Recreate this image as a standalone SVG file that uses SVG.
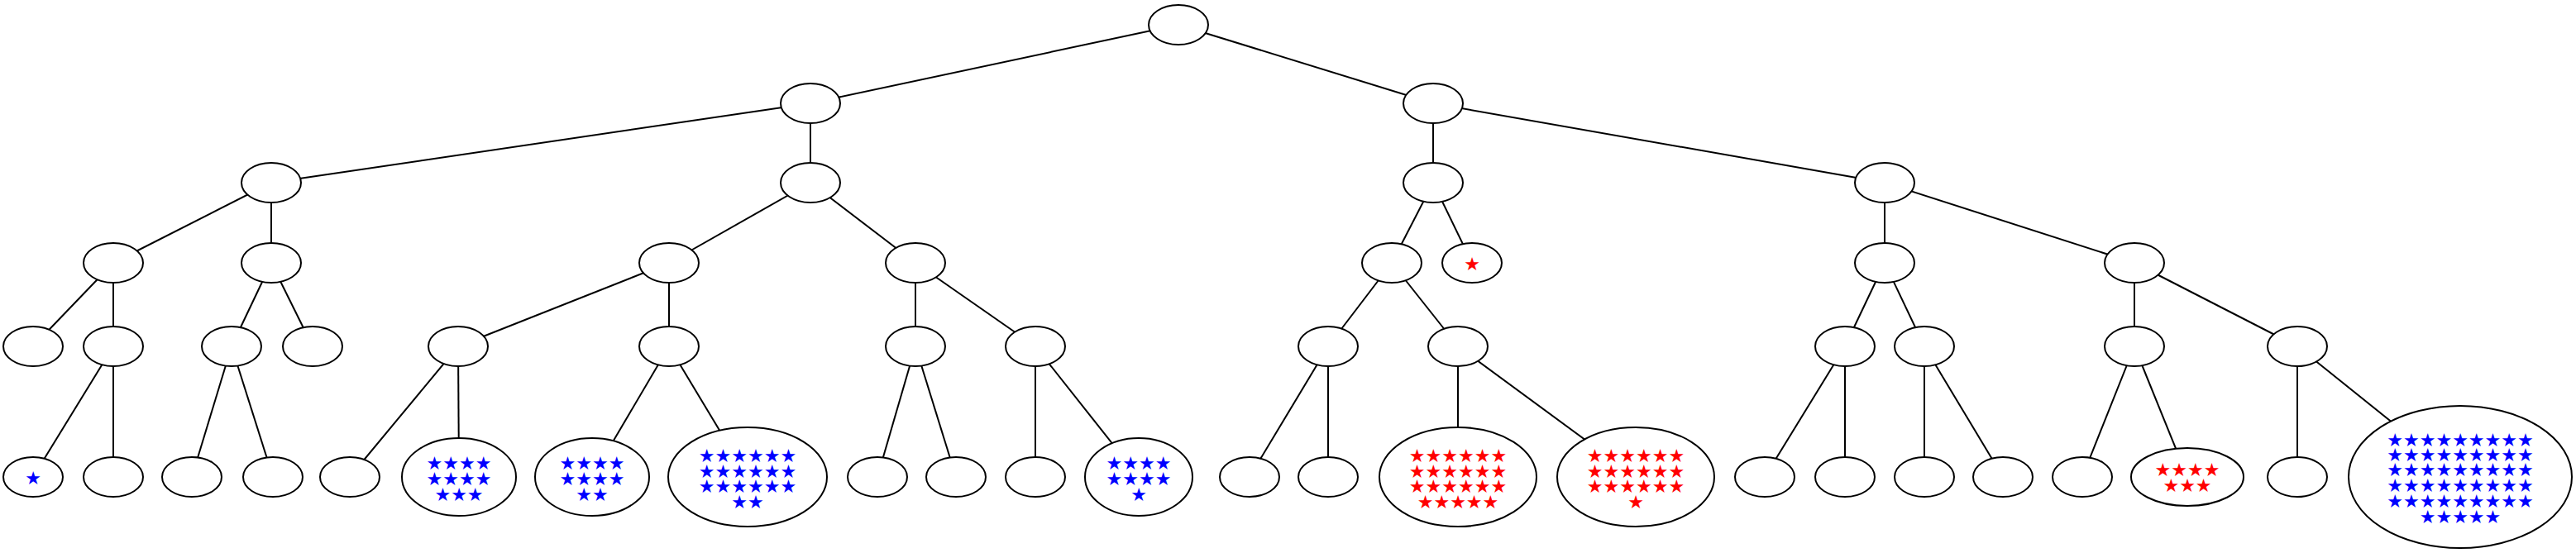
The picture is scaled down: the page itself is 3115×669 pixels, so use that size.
<svg xmlns="http://www.w3.org/2000/svg" width="3115" height="669" viewBox="0 0 3115 669">
<style>
ellipse{fill:#fff;stroke:#000;stroke-width:2}
line{stroke:#000;stroke-width:2}
.b{fill:#00f}.r{fill:#f00}
text{font-family:"DejaVu Sans",sans-serif;font-size:22px;text-anchor:middle;dominant-baseline:central}
</style>
<rect width="3115" height="669" fill="#fff"/>
<g id="edges">
<line x1="1425" y1="30" x2="980" y2="125"/><line x1="1425" y1="30" x2="1733" y2="125"/>
<line x1="980" y1="125" x2="328" y2="221"/><line x1="980" y1="125" x2="980" y2="221"/>
<line x1="1733" y1="125" x2="1733" y2="221"/><line x1="1733" y1="125" x2="2279" y2="221"/>
<line x1="328" y1="221" x2="137" y2="318"/><line x1="328" y1="221" x2="328" y2="318"/>
<line x1="980" y1="221" x2="809" y2="318"/><line x1="980" y1="221" x2="1107" y2="318"/>
<line x1="1733" y1="221" x2="1683" y2="318"/><line x1="1733" y1="221" x2="1780" y2="318"/>
<line x1="2279" y1="221" x2="2279" y2="318"/><line x1="2279" y1="221" x2="2581" y2="318"/>
<line x1="137" y1="318" x2="40" y2="419"/><line x1="137" y1="318" x2="137" y2="419"/>
<line x1="328" y1="318" x2="280" y2="419"/><line x1="328" y1="318" x2="378" y2="419"/>
<line x1="809" y1="318" x2="554" y2="419"/><line x1="809" y1="318" x2="809" y2="419"/>
<line x1="1107" y1="318" x2="1107" y2="419"/><line x1="1107" y1="318" x2="1252" y2="419"/>
<line x1="1683" y1="318" x2="1606" y2="419"/><line x1="1683" y1="318" x2="1763" y2="419"/>
<line x1="2279" y1="318" x2="2231" y2="419"/><line x1="2279" y1="318" x2="2327" y2="419"/>
<line x1="2581" y1="318" x2="2581" y2="419"/><line x1="2581" y1="318" x2="2778" y2="419"/>
<line x1="137" y1="419" x2="40" y2="577"/><line x1="137" y1="419" x2="137" y2="577"/>
<line x1="280" y1="419" x2="232" y2="577"/><line x1="280" y1="419" x2="330" y2="577"/>
<line x1="554" y1="419" x2="423" y2="577"/><line x1="554" y1="419" x2="555" y2="577"/>
<line x1="809" y1="419" x2="716" y2="577"/><line x1="809" y1="419" x2="904" y2="577"/>
<line x1="1107" y1="419" x2="1061" y2="577"/><line x1="1107" y1="419" x2="1156" y2="577"/>
<line x1="1252" y1="419" x2="1252" y2="577"/><line x1="1252" y1="419" x2="1377" y2="577"/>
<line x1="1606" y1="419" x2="1511" y2="577"/><line x1="1606" y1="419" x2="1606" y2="577"/>
<line x1="1763" y1="419" x2="1763" y2="577"/><line x1="1763" y1="419" x2="1978" y2="577"/>
<line x1="2231" y1="419" x2="2134" y2="577"/><line x1="2231" y1="419" x2="2231" y2="577"/>
<line x1="2327" y1="419" x2="2327" y2="577"/><line x1="2327" y1="419" x2="2422" y2="577"/>
<line x1="2581" y1="419" x2="2518" y2="577"/><line x1="2581" y1="419" x2="2645" y2="577"/>
<line x1="2778" y1="419" x2="2778" y2="577"/><line x1="2778" y1="419" x2="2975" y2="577"/>
</g>
<g id="n0"><ellipse cx="1425" cy="30" rx="36" ry="24"/></g>
<g id="n1"><ellipse cx="980" cy="125" rx="36" ry="24"/></g>
<g id="n2"><ellipse cx="1733" cy="125" rx="36" ry="24"/></g>
<g id="n3"><ellipse cx="328" cy="221" rx="36" ry="24"/></g>
<g id="n4"><ellipse cx="980" cy="221" rx="36" ry="24"/></g>
<g id="n5"><ellipse cx="1733" cy="221" rx="36" ry="24"/></g>
<g id="n6"><ellipse cx="2279" cy="221" rx="36" ry="24"/></g>
<g id="n7"><ellipse cx="137" cy="318" rx="36" ry="24"/></g>
<g id="n8"><ellipse cx="328" cy="318" rx="36" ry="24"/></g>
<g id="n9"><ellipse cx="809" cy="318" rx="36" ry="24"/></g>
<g id="n10"><ellipse cx="1107" cy="318" rx="36" ry="24"/></g>
<g id="n11"><ellipse cx="1683" cy="318" rx="36" ry="24"/></g>
<g id="n12"><ellipse cx="1780" cy="318" rx="36" ry="24"/><text class="r" x="1780" y="319">★</text></g>
<g id="n13"><ellipse cx="2279" cy="318" rx="36" ry="24"/></g>
<g id="n14"><ellipse cx="2581" cy="318" rx="36" ry="24"/></g>
<g id="n15"><ellipse cx="40" cy="419" rx="36" ry="24"/></g>
<g id="n16"><ellipse cx="137" cy="419" rx="36" ry="24"/></g>
<g id="n17"><ellipse cx="280" cy="419" rx="36" ry="24"/></g>
<g id="n18"><ellipse cx="378" cy="419" rx="36" ry="24"/></g>
<g id="n19"><ellipse cx="554" cy="419" rx="36" ry="24"/></g>
<g id="n20"><ellipse cx="809" cy="419" rx="36" ry="24"/></g>
<g id="n21"><ellipse cx="1107" cy="419" rx="36" ry="24"/></g>
<g id="n22"><ellipse cx="1252" cy="419" rx="36" ry="24"/></g>
<g id="n23"><ellipse cx="1606" cy="419" rx="36" ry="24"/></g>
<g id="n24"><ellipse cx="1763" cy="419" rx="36" ry="24"/></g>
<g id="n25"><ellipse cx="2231" cy="419" rx="36" ry="24"/></g>
<g id="n26"><ellipse cx="2327" cy="419" rx="36" ry="24"/></g>
<g id="n27"><ellipse cx="2581" cy="419" rx="36" ry="24"/></g>
<g id="n28"><ellipse cx="2778" cy="419" rx="36" ry="24"/></g>
<g id="n29"><ellipse cx="40" cy="577" rx="36" ry="24"/><text class="b" x="40" y="578">★</text></g>
<g id="n30"><ellipse cx="137" cy="577" rx="36" ry="24"/></g>
<g id="n31"><ellipse cx="232" cy="577" rx="36" ry="24"/></g>
<g id="n32"><ellipse cx="330" cy="577" rx="36" ry="24"/></g>
<g id="n33"><ellipse cx="423" cy="577" rx="36" ry="24"/></g>
<g id="n34"><ellipse cx="555" cy="577" rx="69" ry="47"/><text class="b"><tspan x="555" y="560">★★★★</tspan><tspan x="555" y="579">★★★★</tspan><tspan x="555" y="598">★★★</tspan></text></g>
<g id="n35"><ellipse cx="716" cy="577" rx="69" ry="47"/><text class="b"><tspan x="716" y="560">★★★★</tspan><tspan x="716" y="579">★★★★</tspan><tspan x="716" y="598">★★</tspan></text></g>
<g id="n36"><ellipse cx="904" cy="577" rx="96" ry="60"/><text class="b"><tspan x="904" y="551">★★★★★★</tspan><tspan x="904" y="570">★★★★★★</tspan><tspan x="904" y="588">★★★★★★</tspan><tspan x="904" y="607">★★</tspan></text></g>
<g id="n37"><ellipse cx="1061" cy="577" rx="36" ry="24"/></g>
<g id="n38"><ellipse cx="1156" cy="577" rx="36" ry="24"/></g>
<g id="n39"><ellipse cx="1252" cy="577" rx="36" ry="24"/></g>
<g id="n40"><ellipse cx="1377" cy="577" rx="65" ry="47"/><text class="b"><tspan x="1377" y="560">★★★★</tspan><tspan x="1377" y="579">★★★★</tspan><tspan x="1377" y="598">★</tspan></text></g>
<g id="n41"><ellipse cx="1511" cy="577" rx="36" ry="24"/></g>
<g id="n42"><ellipse cx="1606" cy="577" rx="36" ry="24"/></g>
<g id="n43"><ellipse cx="1763" cy="577" rx="95" ry="60"/><text class="r"><tspan x="1763" y="551">★★★★★★</tspan><tspan x="1763" y="570">★★★★★★</tspan><tspan x="1763" y="588">★★★★★★</tspan><tspan x="1763" y="607">★★★★★</tspan></text></g>
<g id="n44"><ellipse cx="1978" cy="577" rx="95" ry="60"/><text class="r"><tspan x="1978" y="551">★★★★★★</tspan><tspan x="1978" y="570">★★★★★★</tspan><tspan x="1978" y="588">★★★★★★</tspan><tspan x="1978" y="607">★</tspan></text></g>
<g id="n45"><ellipse cx="2134" cy="577" rx="36" ry="24"/></g>
<g id="n46"><ellipse cx="2231" cy="577" rx="36" ry="24"/></g>
<g id="n47"><ellipse cx="2327" cy="577" rx="36" ry="24"/></g>
<g id="n48"><ellipse cx="2422" cy="577" rx="36" ry="24"/></g>
<g id="n49"><ellipse cx="2518" cy="577" rx="36" ry="24"/></g>
<g id="n50"><ellipse cx="2645" cy="577" rx="68" ry="35"/><text class="r"><tspan x="2645" y="568">★★★★</tspan><tspan x="2645" y="587">★★★</tspan></text></g>
<g id="n51"><ellipse cx="2778" cy="577" rx="36" ry="24"/></g>
<g id="n52"><ellipse cx="2975" cy="577" rx="135" ry="86"/><text class="b"><tspan x="2975" y="532">★★★★★★★★★</tspan><tspan x="2975" y="550">★★★★★★★★★</tspan><tspan x="2975" y="568">★★★★★★★★★</tspan><tspan x="2975" y="587">★★★★★★★★★</tspan><tspan x="2975" y="606">★★★★★★★★★</tspan><tspan x="2975" y="625">★★★★★</tspan></text></g>
</svg>
